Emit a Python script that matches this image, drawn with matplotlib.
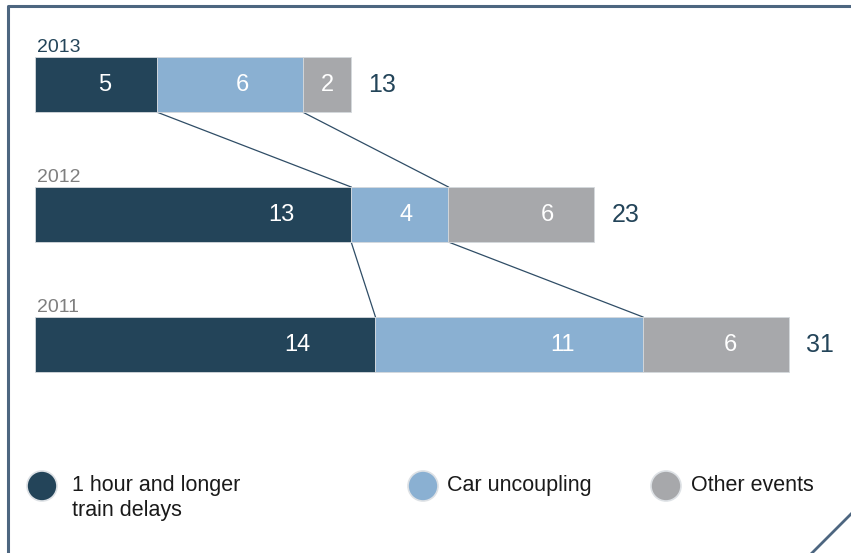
import matplotlib
matplotlib.use("Agg")
import matplotlib.pyplot as plt
from matplotlib.patches import Circle
import numpy as np

plt.rcParams['font.family'] = ['Liberation Sans', 'DejaVu Sans']

# ---- data ----
years = ["2013", "2012", "2011"]
categories = ["1 hour and longer\ntrain delays", "Car uncoupling", "Other events"]
train_delays = [5, 13, 14]
car_uncoupling = [6, 4, 11]
other_events = [2, 6, 6]
totals = [13, 23, 31]

# ---- style ----
colors = ["#234459", "#8ab0d2", "#a7a8ab"]
year_colors = ["#234459", "#7f7f7f", "#7f7f7f"]
line_color = "#2f4d66"
frame_color = "#4d6680"
label_frac = [[0.57, 0.59, 0.51], [0.78, 0.56, 0.68], [0.77, 0.70, 0.60]]

W, H = 851, 553
fig = plt.figure(figsize=(W / 100, H / 100), dpi=100)
ax = fig.add_axes([0, 0, 1, 1])

px_per_unit = 24.32
x0_px = 35
row_px = 130
first_center_px = 84.5
bar_h = 55 / row_px

ax.set_xlim(-x0_px / px_per_unit, (W - x0_px) / px_per_unit)
ax.set_ylim((H - first_center_px) / row_px, -first_center_px / row_px)
ax.axis("off")

series = [train_delays, car_uncoupling, other_events]
vals = np.array(series).T  # rows=years
ypos = np.arange(len(years))
left = np.zeros(len(years))
for k, s in enumerate(series):
    ax.barh(ypos, s, left=left, height=bar_h, color=colors[k],
            edgecolor="#d5d9dd", linewidth=0.6, zorder=2)
    for i in range(len(years)):
        ax.text(left[i] + s[i] * label_frac[i][k], ypos[i], str(s[i]),
                color="white", fontsize=17, ha="center", va="center", zorder=3)
    left = left + np.array(s)

cum = np.cumsum(vals, axis=1)
for i in range(len(years)):
    ax.text(cum[i, -1] + 17 / px_per_unit, ypos[i], str(totals[i]),
            color="#234459", fontsize=18, ha="left", va="center")
    ax.text(0.1, ypos[i] - bar_h / 2 - 5 / row_px, years[i], color=year_colors[i],
            fontsize=14, ha="left", va="baseline")

# connecting lines
for i in range(len(years) - 1):
    for k in range(2):
        ax.plot([cum[i, k], cum[i + 1, k]],
                [ypos[i] + bar_h / 2, ypos[i + 1] - bar_h / 2],
                color=line_color, lw=0.9, zorder=1)

# overlay in pixel coords
ov = fig.add_axes([0, 0, 1, 1], facecolor="none")
ov.set_xlim(0, W)
ov.set_ylim(H, 0)
ov.axis("off")
ov.plot([7.5, 7.5, W], [H, 5.5, 5.5], color=frame_color, lw=2.2, solid_capstyle="butt")
ov.plot([812, W], [H, 514], color=frame_color, lw=2.0)

leg_x = [42, 423, 666]
leg_tx = [72, 447, 691]
for k in range(3):
    ov.add_patch(Circle((leg_x[k], 486), 15, facecolor=colors[k],
                        edgecolor="#dde1e5", lw=1.2))
    ov.text(leg_tx[k], 475, categories[k], fontsize=15.5, color="#1a1a1a",
            ha="left", va="top", linespacing=1.27)

fig.savefig("out.png", dpi=100)
